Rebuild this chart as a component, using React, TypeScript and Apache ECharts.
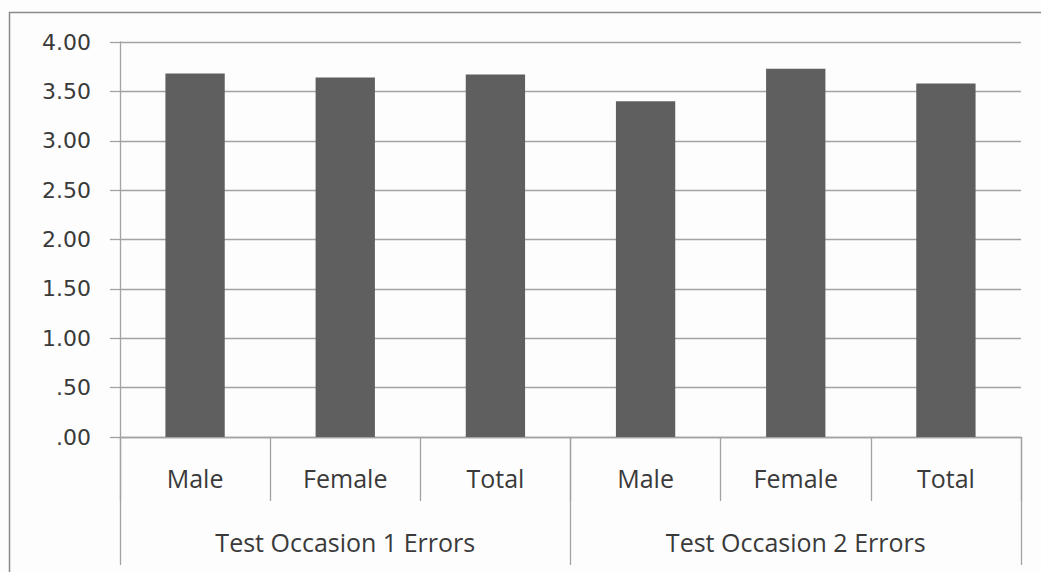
import React, { useEffect, useRef } from "react";
import * as echarts from "echarts";

const categories = ["Male", "Female", "Total", "Male", "Female", "Total"];
const groups = ["Test Occasion 1 Errors", "Test Occasion 2 Errors"];
const values = [3.68, 3.64, 3.67, 3.4, 3.73, 3.58];
const yTickLabels: Record<string, string> = {
  "0": ".00",
  "0.5": ".50",
  "1": "1.00",
  "1.5": "1.50",
  "2": "2.00",
  "2.5": "2.50",
  "3": "3.00",
  "3.5": "3.50",
  "4": "4.00",
};

export default function App() {
  const ref = useRef<HTMLDivElement>(null);
  useEffect(() => {
    if (!ref.current) return;
    const chart = echarts.init(ref.current, undefined, { renderer: "svg" });
    const lineColor = "#a3a3a3";
    chart.setOption({
      animation: false,
      backgroundColor: "#fdfdfd",
      grid: { left: 120, top: 42, right: 20, bottom: 135, containLabel: false },
      xAxis: [
        {
          type: "category",
          data: categories,
          position: "bottom",
          axisLine: { show: true, lineStyle: { color: lineColor, width: 1.3 } },
          axisTick: { show: true, length: 64, alignWithLabel: false, lineStyle: { color: lineColor, width: 1.3 } },
          axisLabel: {
            margin: 28,
            fontFamily: "Open Sans",
            fontSize: 25,
            lineHeight: 25,
            color: "#3a3a3a",
          },
        },
        {
          type: "category",
          data: groups,
          position: "bottom",
          axisLine: { show: false },
          axisTick: { show: true, length: 128, alignWithLabel: false, lineStyle: { color: lineColor, width: 1.3 } },
          axisLabel: {
            margin: 92,
            fontFamily: "Open Sans",
            fontSize: 25,
            lineHeight: 25,
            color: "#3a3a3a",
          },
        },
      ],
      yAxis: {
        type: "value",
        min: 0,
        max: 4,
        interval: 0.5,
        axisLine: { show: true, lineStyle: { color: lineColor, width: 1.3 } },
        axisTick: { show: true, length: 10, lineStyle: { color: lineColor, width: 1.3 } },
        splitLine: { show: true, lineStyle: { color: lineColor, width: 1.3 } },
        axisLabel: {
          margin: 29,
          fontFamily: "DejaVu Sans",
          fontSize: 22,
          color: "#3a3a3a",
          formatter: (v: number) => yTickLabels[String(v)] ?? String(v),
        },
      },
      series: [
        {
          type: "bar",
          xAxisIndex: 0,
          data: values,
          barWidth: "39.5%",
          itemStyle: { color: "#5f5f5f" },
        },
      ],
      graphic: [
        {
          type: "rect",
          shape: { x: 9.5, y: 12.5, width: 1100, height: 700 },
          style: { fill: "none", stroke: "#8a8a8a", lineWidth: 1.5 },
          silent: true,
        },
      ],
    });
    return () => chart.dispose();
  }, []);
  return (
    <div
      ref={ref}
      style={{ position: "fixed", left: 0, top: 0, width: 1041, height: 572 }}
    />
  );
}
